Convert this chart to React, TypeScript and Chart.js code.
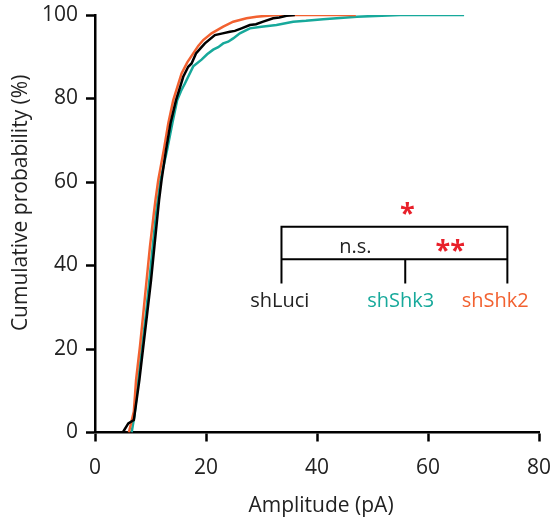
import { useEffect, useRef } from "react";
import { Chart, registerables } from "chart.js";

Chart.register(...registerables);

// ---- data ----
const xTickValues = [0, 20, 40, 60, 80];
const yTickValues = [0, 20, 40, 60, 80, 100];
const seriesNames = ["shLuci", "shShk3", "shShk2"];
const seriesColors = ["#000000", "#17a99b", "#f26130"];

const luciX = [5.0, 6.0, 7.0, 7.5, 8.0, 8.7, 9.4, 10.1, 10.7, 11.3, 11.55, 12.0, 12.8, 13.6, 14.6, 15.4, 15.9, 16.8, 17.4, 18.2, 19.0, 19.8, 21.6, 23.0, 24.3, 25.2, 26.4, 27.9, 29.0, 30.3, 32.1, 33.2, 34.5, 36.0];
const luciY = [0, 2.2, 3.0, 7.8, 12.6, 20.6, 28.5, 36.5, 44.5, 52.5, 55.7, 60.5, 67.7, 74.0, 79.6, 83.0, 85.2, 87.6, 88.4, 90.8, 92.0, 93.2, 95.2, 95.6, 96.0, 96.2, 96.8, 97.6, 97.8, 98.4, 99.2, 99.4, 99.8, 100];

const shk3X = [6.6, 7.1, 7.8, 8.5, 9.2, 9.8, 10.4, 11.0, 11.8, 13.0, 14.0, 14.8, 15.5, 16.2, 17.7, 19.2, 20.2, 21.3, 22.2, 23.1, 24.0, 24.9, 26.1, 27.9, 30.0, 32.7, 35.7, 38.0, 41.1, 47.2, 55.0, 66.5];
const shk3Y = [0, 4.0, 12.6, 20.6, 28.5, 36.5, 44.5, 52.5, 60.5, 67.7, 74.5, 79.6, 81.8, 83.6, 87.7, 89.3, 90.6, 91.7, 92.3, 93.2, 93.6, 94.4, 95.6, 96.8, 97.2, 97.6, 98.4, 98.6, 99.0, 99.6, 100, 100];

const shk2X = [6.1, 7.0, 7.4, 8.1, 8.7, 9.3, 9.9, 10.6, 10.9, 11.4, 12.4, 13.2, 14.1, 15.6, 16.6, 17.7, 18.6, 19.5, 21.0, 23.1, 24.9, 27.3, 29.1, 32.7, 47.0];
const shk2Y = [0, 5.0, 12.6, 20.6, 28.5, 36.5, 44.5, 52.5, 55.7, 60.5, 67.7, 74.0, 79.6, 86.0, 88.6, 90.8, 92.6, 94.0, 95.6, 97.2, 98.4, 99.2, 99.6, 100, 100];

const significance = ["*", "n.s.", "**"];

const FONT = "'Open Sans', sans-serif";
const TEXT = "#222222";
const RED = "#e8202a";

const toPoints = (xs: number[], ys: number[]) => xs.map((x, i) => ({ x, y: ys[i] }));

const annotationPlugin = {
  id: "annotations",
  afterDraw(chart: any) {
    const { ctx } = chart;
    const xs = chart.scales.x;
    const ys = chart.scales.y;
    const px = (v: number) => xs.getPixelForValue(v);
    const py = (v: number) => ys.getPixelForValue(v);
    ctx.save();
    // bracket
    ctx.strokeStyle = "#000";
    ctx.lineWidth = 2;
    ctx.lineCap = "butt";
    const xl = px(33.6), xm = px(55.9), xr = px(74.3);
    const yt = py(49.3), ym = py(41.5), yb = py(35.7);
    ctx.beginPath();
    ctx.moveTo(xl, yb);
    ctx.lineTo(xl, yt);
    ctx.lineTo(xr, yt);
    ctx.lineTo(xr, yb);
    ctx.moveTo(xl, ym);
    ctx.lineTo(xr, ym);
    ctx.moveTo(xm, ym);
    ctx.lineTo(xm, yb);
    ctx.stroke();

    ctx.textAlign = "center";
    ctx.textBaseline = "alphabetic";
    // group labels
    ctx.font = `20px ${FONT}`;
    const labelX = [33.3, 55.1, 72.1];
    const labelColors = [TEXT, seriesColors[1], seriesColors[2]];
    seriesNames.forEach((n, i) => {
      ctx.fillStyle = labelColors[i];
      ctx.fillText(n, px(labelX[i]), py(30.1));
    });
    // n.s.
    ctx.fillStyle = TEXT;
    ctx.fillText(significance[1], px(46.9), py(43.0));
    // asterisks
    ctx.fillStyle = RED;
    ctx.font = `bold 27px ${FONT}`;
    ctx.fillText(significance[0], px(56.3), py(50.5));
    ctx.fillText(significance[2], px(64.0), py(41.6));

    // axis titles
    ctx.fillStyle = TEXT;
    ctx.font = `21px ${FONT}`;
    ctx.fillText("Amplitude (pA)", px(40) + 4, 511.7);
    ctx.save();
    ctx.translate(27, py(55));
    ctx.rotate(-Math.PI / 2);
    ctx.fillText("Cumulative probability (%)", 0, 0);
    ctx.restore();
    ctx.restore();
  },
};

export default function App() {
  const ref = useRef<HTMLCanvasElement | null>(null);
  useEffect(() => {
    if (!ref.current) return;
    const lineDs = (i: number, xs: number[], ys: number[]) => ({
      label: seriesNames[i],
      data: toPoints(xs, ys),
      borderColor: seriesColors[i],
      backgroundColor: seriesColors[i],
      borderWidth: 2.5,
      pointRadius: 0,
      showLine: true,
      tension: 0,
      fill: false,
    });
    const axisCommon = {
      grid: {
        display: true,
        drawOnChartArea: false,
        drawTicks: true,
        tickLength: 9,
        tickWidth: 2.5,
        tickColor: "#000",
      },
      border: { display: true, color: "#000", width: 2.5 },
    };
    const chart = new Chart(ref.current, {
      type: "scatter",
      data: {
        datasets: [
          lineDs(0, luciX, luciY),
          lineDs(2, shk2X, shk2Y),
          lineDs(1, shk3X, shk3Y),
        ],
      },
      options: {
        animation: false,
        responsive: false,
        devicePixelRatio: 1,
        layout: { padding: { left: 0, top: 15, right: 13, bottom: 0 } },
        plugins: { legend: { display: false }, tooltip: { enabled: false } },
        scales: {
          x: {
            type: "linear",
            min: 0,
            max: 80,
            afterBuildTicks: (s: any) => { s.ticks = xTickValues.map((v) => ({ value: v })); },
            afterFit: (s: any) => { s.height = 86.5; s.paddingLeft = 0; s.paddingRight = 0; },
            ticks: { font: { family: FONT, size: 21 }, color: TEXT, padding: 14, maxRotation: 0 },
            ...axisCommon,
          },
          y: {
            type: "linear",
            min: 0,
            max: 100,
            afterBuildTicks: (s: any) => { s.ticks = yTickValues.map((v) => ({ value: v })); },
            afterFit: (s: any) => { s.width = 95; s.paddingTop = 0; s.paddingBottom = 0; },
            ticks: { font: { family: FONT, size: 21 }, color: TEXT, padding: 8 },
            ...axisCommon,
          },
        },
      },
      plugins: [annotationPlugin],
    } as any);
    return () => chart.destroy();
  }, []);
  return (
    <div style={{ position: "absolute", left: 0, top: 0, width: 552, height: 519 }}>
      <canvas ref={ref} width={552} height={519} style={{ display: "block" }} />
    </div>
  );
}
